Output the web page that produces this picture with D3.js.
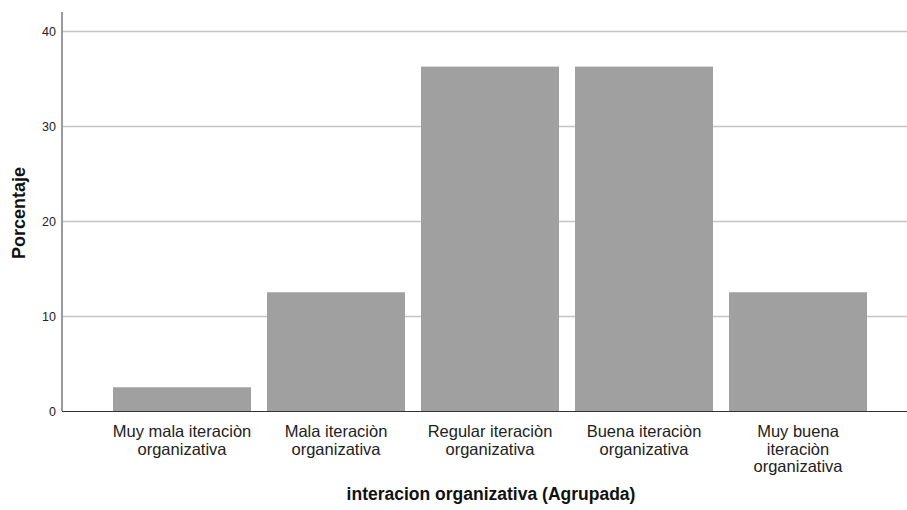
<!DOCTYPE html>
<html><head><meta charset="utf-8">
<script src="https://cdn.jsdelivr.net/npm/d3@7"></script>
<style>body{margin:0;background:#fff;} svg{display:block;font-family:Arial,"Liberation Sans",sans-serif;}</style>
</head><body>
<svg id="c" width="907" height="510"></svg>
<script>
const categories = [
  ["Muy mala iteraciòn","organizativa"],
  ["Mala iteraciòn","organizativa"],
  ["Regular iteraciòn","organizativa"],
  ["Buena iteraciòn","organizativa"],
  ["Muy buena","iteraciòn","organizativa"]
];
const values = [2.5, 12.5, 36.25, 36.25, 12.5];
const yTicks = [0, 10, 20, 30, 40];
const xTitle = "interacion organizativa (Agrupada)";
const yTitle = "Porcentaje";

(function () {
const svg = d3.select("#c");
const pl = 62, pr = 907, pt = 12, pb = 411;
const ff = "Arial, 'Liberation Sans', sans-serif";

const x = d3.scaleBand().domain(d3.range(categories.length)).range([105, 875]).paddingInner(0.104).paddingOuter(0.052);
const y = d3.scaleLinear().domain([0, 42]).range([pb, pt]);

// gridlines
svg.append("g").selectAll("line").data(yTicks.filter(d => d > 0)).join("line")
  .attr("x1", pl).attr("x2", pr)
  .attr("y1", d => Math.round(y(d)) + 0.5).attr("y2", d => Math.round(y(d)) + 0.5)
  .attr("stroke", "#c4c4c4").attr("stroke-width", 1.3);

// bars
svg.append("g").selectAll("rect").data(values).join("rect")
  .attr("x", (d, i) => x(i)).attr("width", x.bandwidth())
  .attr("y", d => y(d)).attr("height", d => y(0) - y(d))
  .attr("fill", "#a0a0a0");

// y axis
const ya = svg.append("g").attr("transform", `translate(${pl},0)`)
  .call(d3.axisLeft(y).tickValues(yTicks).tickSize(0).tickPadding(6).tickFormat(d3.format("d")));
ya.select(".domain").remove();
ya.selectAll("text").attr("font-size", 12.5).attr("fill", "#222").attr("font-family", ff);
svg.append("line").attr("x1", pl).attr("x2", pl).attr("y1", pt).attr("y2", pb)
  .attr("stroke", "#9a9a9a").attr("stroke-width", 2);

// x axis line
svg.append("line").attr("x1", pl).attr("x2", pr).attr("y1", pb + 0.5).attr("y2", pb + 0.5)
  .attr("stroke", "#333").attr("stroke-width", 1);

// category labels
const xa = svg.append("g").attr("transform", `translate(0,${pb})`)
  .call(d3.axisBottom(x).tickSize(0).tickFormat(""));
xa.select(".domain").remove();
xa.selectAll(".tick").each(function(d) {
  const t = d3.select(this).append("text").attr("fill", "#222").attr("font-size", 16.5)
    .attr("text-anchor", "middle").attr("font-family", ff);
  categories[d].forEach((line, k) => {
    t.append("tspan").attr("x", 0).attr("y", 26 + k * 17.5).text(line);
  });
});

// titles
svg.append("text").attr("x", 491).attr("y", 500).attr("text-anchor", "middle")
  .attr("font-size", 17.5).attr("font-weight", "bold").attr("fill", "#111").attr("font-family", ff).text(xTitle);
svg.append("text").attr("transform", "translate(25,213) rotate(-90)").attr("text-anchor", "middle")
  .attr("font-size", 18).attr("font-weight", "bold").attr("fill", "#111").attr("font-family", ff).text(yTitle);
})();
</script>
</body></html>
